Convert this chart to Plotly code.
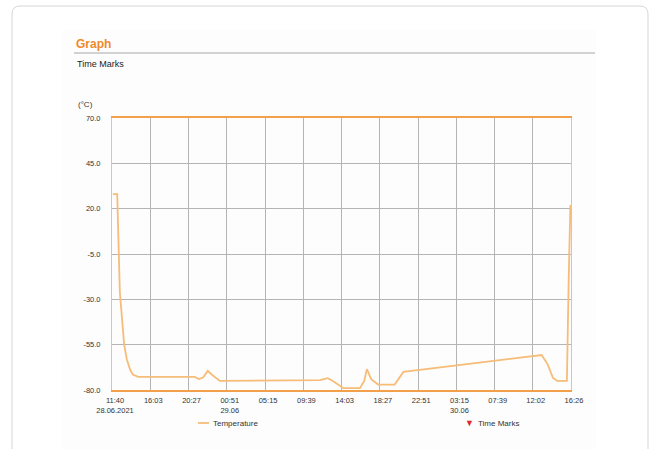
import plotly.graph_objects as go

# ---- data ----
hours = [0.1, 0.6, 0.9, 1.4, 1.7, 2.1, 2.4, 3.0, 9.5, 10.0, 10.5, 11.0, 11.6, 12.4,
         23.9, 24.8, 25.4, 26.6, 28.5, 29.0, 29.3, 29.8, 30.6, 32.5, 33.5, 41.2,
         49.4, 50.1, 50.7, 51.2, 52.3, 52.5, 52.7]
temperature = [28, 28, -26, -55, -63, -69, -71.5, -72.8, -72.8, -74, -73, -69.5, -72, -75,
               -74.5, -73.5, -75, -79, -79, -75, -68.5, -74, -77, -77, -70, -65.5,
               -60.7, -66, -73.4, -75, -75, -20, 22]
x_tick_hours = [0, 4.4, 8.8, 13.2, 17.6, 22.0, 26.4, 30.8, 35.2, 39.6, 44.0, 48.37, 52.77]
x_tick_labels = ["11:40<br>28.06.2021", "16:03", "20:27", "00:51<br>29.06", "05:15", "09:39",
                 "14:03", "18:27", "22:51", "03:15<br>30.06", "07:39", "12:02", "16:26"]
y_ticks = [-80, -55, -30, -5, 20, 45, 70]
y_tick_labels = ["-80.0", "-55.0", "-30.0", "-5.0", "20.0", "45.0", "70.0"]

W, H = 657, 449
PL, PR, PT, PB = 112, 571, 118, 390
FONT = "Liberation Sans, Arial, sans-serif"
TEMP_COLOR = "#F6BC78"
LIMIT_COLOR = "#F2A04A"


def px(x):
    return (x - PL) / (PR - PL)


def py(y):
    return (PB - y) / (PB - PT)


fig = go.Figure()
fig.add_trace(go.Scatter(x=hours, y=temperature, mode="lines", name="Temperature",
                         line=dict(color=TEMP_COLOR, width=1.8), showlegend=False))

shapes = []
annotations = []

# card with rounded corners
L, R, T, B, r = 12, 648, 6, 470, 8
path = (f"M {px(L + r)},{py(T)} L {px(R - r)},{py(T)} Q {px(R)},{py(T)} {px(R)},{py(T + r)} "
        f"L {px(R)},{py(B)} L {px(L)},{py(B)} L {px(L)},{py(T + r)} Q {px(L)},{py(T)} {px(L + r)},{py(T)} Z")
shapes.append(dict(type="path", xref="paper", yref="paper", path=path,
                   line=dict(color="#D6D6D6", width=1), fillcolor="white", layer="below"))
# faint inner panel
shapes.append(dict(type="rect", xref="paper", yref="paper", x0=px(62), x1=px(596), y0=py(470), y1=py(30),
                   line=dict(width=0), fillcolor="#FDFDFD", layer="below"))
# header underline
shapes.append(dict(type="line", xref="paper", yref="paper", x0=px(74), x1=px(595), y0=py(53), y1=py(53),
                   line=dict(color="#D2D2D2", width=2)))

annotations.append(dict(xref="paper", yref="paper", x=px(74), y=py(44), text="<b>Graph</b>",
                        showarrow=False, xanchor="left", yanchor="middle",
                        font=dict(family=FONT, size=12, color="#EE8A2A")))
annotations.append(dict(xref="paper", yref="paper", x=px(75), y=py(64), text="Time Marks",
                        showarrow=False, xanchor="left", yanchor="middle",
                        font=dict(family=FONT, size=9, color="#222222")))
annotations.append(dict(xref="paper", yref="paper", x=px(76), y=py(105), text="(°C)",
                        showarrow=False, xanchor="left", yanchor="middle",
                        font=dict(family=FONT, size=8, color="#333333")))

# legend
shapes.append(dict(type="line", xref="paper", yref="paper", x0=px(198), x1=px(209), y0=py(423), y1=py(423),
                   line=dict(color=TEMP_COLOR, width=1.8)))
annotations.append(dict(xref="paper", yref="paper", x=px(211), y=py(423), text="Temperature",
                        showarrow=False, xanchor="left", yanchor="middle",
                        font=dict(family=FONT, size=8, color="#333333")))
annotations.append(dict(xref="paper", yref="paper", x=px(469), y=py(423), text="▼",
                        showarrow=False, xanchor="center", yanchor="middle",
                        font=dict(family=FONT, size=9, color="#E0252B")))
annotations.append(dict(xref="paper", yref="paper", x=px(476), y=py(423), text="Time Marks",
                        showarrow=False, xanchor="left", yanchor="middle",
                        font=dict(family=FONT, size=8, color="#333333")))

fig.update_layout(
    width=W, height=H,
    margin=dict(l=PL, r=W - PR, t=PT, b=H - PB),
    paper_bgcolor="white", plot_bgcolor="white",
    showlegend=False,
    shapes=shapes, annotations=annotations,
    font=dict(family=FONT, size=8, color="#333333"),
)
fig.update_xaxes(range=[0, 52.77], tickmode="array", tickvals=x_tick_hours, ticktext=x_tick_labels,
                 showgrid=True, gridcolor="#B4B4B4", gridwidth=1,
                 showline=True, linecolor=LIMIT_COLOR, linewidth=2, mirror=True,
                 zeroline=False, ticks="", ticklabelshift=3, ticklabelstandoff=2,
                 tickfont=dict(size=7.5, color="#333333"))
fig.update_yaxes(range=[-80, 70], tickmode="array", tickvals=y_ticks, ticktext=y_tick_labels,
                 showgrid=True, gridcolor="#B4B4B4", gridwidth=1,
                 showline=True, linecolor="#C8C8C8", linewidth=1, mirror=True,
                 zeroline=False, ticks="", ticklabelstandoff=9,
                 tickfont=dict(size=7.5, color="#333333"))

fig.write_html("out.html", config={"displayModeBar": False},
               post_script="document.body.style.margin='0';")
